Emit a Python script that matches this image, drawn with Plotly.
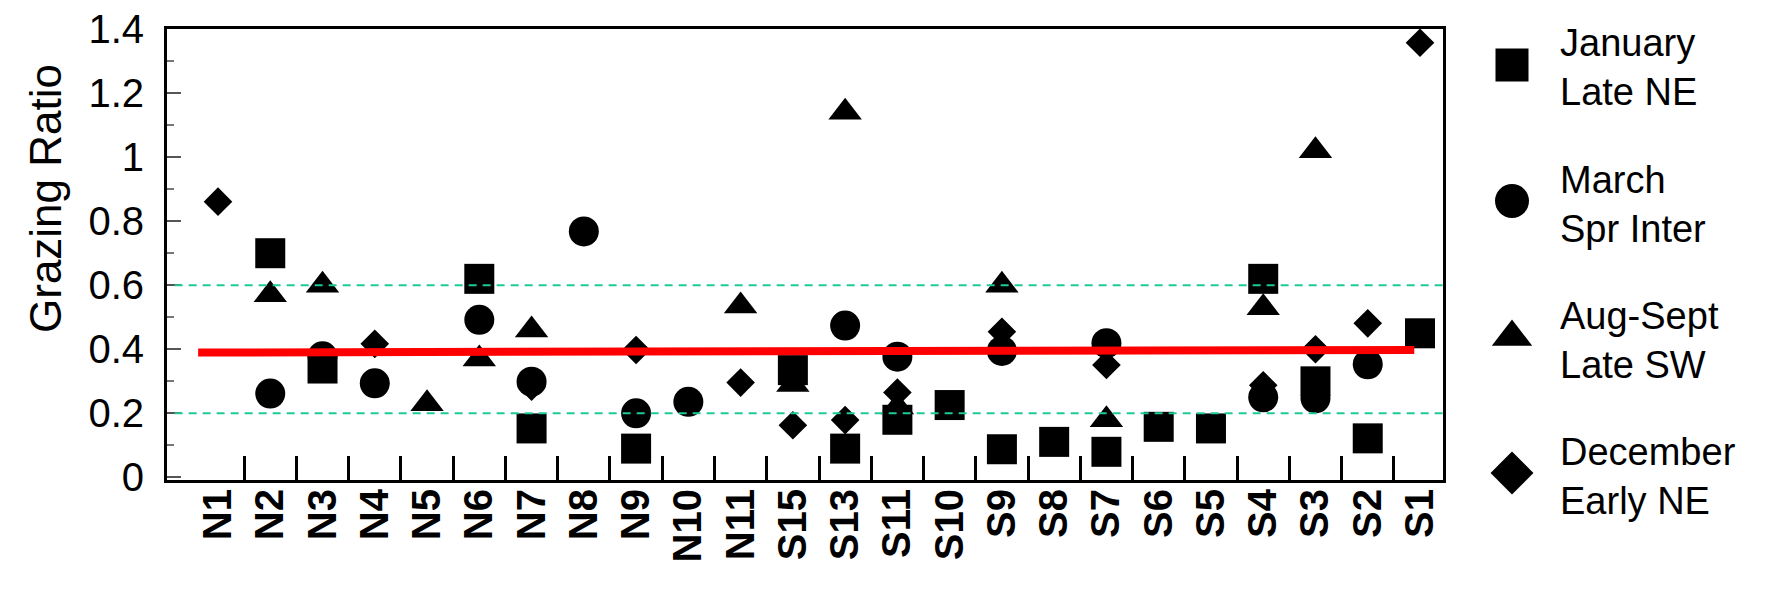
import plotly.graph_objects as go

# ---------------- data ----------------
categories = ["N1", "N2", "N3", "N4", "N5", "N6", "N7", "N8", "N9", "N10", "N11",
              "S15", "S13", "S11", "S10", "S9", "S8", "S7", "S6", "S5", "S4", "S3", "S2", "S1"]

january = [None, 0.70, 0.34, None, None, 0.62, 0.153, None, 0.09, None, None,
           0.335, 0.09, 0.18, 0.226, 0.088, 0.111, 0.08, 0.158, 0.153, 0.62, 0.30, 0.122, 0.45]
march = [None, 0.262, 0.378, 0.294, None, 0.492, 0.299, 0.768, 0.20, 0.236, None,
         None, 0.474, 0.377, None, 0.395, None, 0.419, None, None, 0.25, 0.247, 0.353, None]
aug_sept = [None, 0.57, 0.60, None, 0.23, 0.37, 0.46, None, None, None, 0.535,
            0.29, 1.14, 0.22, None, 0.60, None, 0.18, None, None, 0.53, 1.02, None, None]
december = [0.861, None, None, 0.417, None, None, 0.283, None, 0.398, None, 0.296,
            0.163, 0.179, 0.265, None, 0.455, None, 0.351, None, None, 0.288, 0.40, 0.481, 1.357]

series_names = ["January Late NE", "March Spr Inter", "Aug-Sept Late SW", "December Early NE"]
legend_line1 = ["January", "March", "Aug-Sept", "December"]
legend_line2 = ["Late NE", "Spr Inter", "Late SW", "Early NE"]

mean_line = [0.39, 0.398]          # red average line (start, end)
reference_levels = [0.2, 0.6]      # dashed green lines
y_tick_values = [0, 0.2, 0.4, 0.6, 0.8, 1.0, 1.2, 1.4]

# ---------------- layout geometry (pixels) ----------------
W, H = 1772, 601
PL, PT, PB, PR = 167, 29, 480, 1443        # plot area left/top/bottom/right
PW = W - PL                                  # paper width (right margin 0)
PH = PB - PT

def paper_x(px):
    return (px - PL) / PW

def paper_y(py):
    return (PB - py) / PH

FONT = "Liberation Sans, Arial, sans-serif"
symbols = ["square", "circle", "triangle-up", "diamond"]
sizes = [30, 30, 29, 22]
values = [january, march, aug_sept, december]

fig = go.Figure()
xs = list(range(len(categories)))
n = len(categories)
for name, vals, sym, sz in zip(series_names, values, symbols, sizes):
    fig.add_trace(go.Scatter(
        x=xs, y=vals, mode="markers", name=name,
        marker=dict(symbol=sym, size=sz, color="black", line=dict(width=0)),
        cliponaxis=False, showlegend=False))

# red average line across the sites (drawn on the overlay axis so it sits on top)
fig.add_trace(go.Scatter(
    x=[0 - 0.38, (n - 1) - 0.11], y=mean_line, mode="lines", xaxis="x3",
    line=dict(color="#ff0000", width=8), showlegend=False, hoverinfo="skip"))

# dashed reference levels
for lv in reference_levels:
    fig.add_shape(type="line", xref="x domain", yref="y", x0=0.006, x1=1, y0=lv, y1=lv,
                  line=dict(color="#1fc99a", width=2, dash="8px,6px"), layer="above")

# ---------------- custom legend on the right ----------------
leg_x0 = 1483
leg_marker_x = 1512
leg_sizes = [33, 34, 35, 33]
for i, (sym, sz) in enumerate(zip(symbols, leg_sizes)):
    cy = 68 + 136 * i
    fig.add_trace(go.Scatter(
        x=[leg_marker_x], y=[cy - 3], mode="markers", xaxis="x2", yaxis="y2",
        marker=dict(symbol=sym, size=sz, color="black"), showlegend=False,
        cliponaxis=False, hoverinfo="skip"))
    fig.add_annotation(text=legend_line1[i] + "<br>" + legend_line2[i],
                       xref="paper", yref="paper",
                       x=paper_x(1558), y=paper_y(cy), align="left",
                       xanchor="left", yanchor="middle", showarrow=False,
                       font=dict(family=FONT, size=38, color="black"))

# y-axis title
fig.add_annotation(text="Grazing Ratio", xref="paper", yref="paper",
                   x=paper_x(45), y=paper_y(199), textangle=-90,
                   xanchor="center", yanchor="middle", showarrow=False,
                   font=dict(family=FONT, size=44, color="black"))

spacing = (1420 - 218) / (n - 1)
x_lo = -(218 - PL) / spacing
x_hi = (n - 1) + (PR - 1420) / spacing
x_domain = [0, (PR - PL) / PW]

fig.update_layout(
    template="none",
    width=W, height=H,
    margin=dict(l=PL, r=0, t=PT, b=H - PB, pad=0),
    paper_bgcolor="white", plot_bgcolor="white",
    showlegend=False,
    xaxis=dict(domain=x_domain, range=[x_lo, x_hi],
               tickmode="array", tickvals=xs, ticktext=categories,
               ticks="", tickangle=-90,
               showgrid=False, zeroline=False,
               showline=True, linecolor="black", linewidth=3, mirror=True,
               ticklabelstandoff=-10, automargin=False,
               tickfont=dict(family=FONT, size=40, color="black", weight="bold")),
    # overlay axis carrying the separator tick marks between sites
    xaxis3=dict(domain=x_domain, range=[x_lo, x_hi], overlaying="x", anchor="y",
                side="bottom", tickmode="array",
                tickvals=[i + 0.5 for i in range(n - 1)],
                ticks="inside", ticklen=24, tickwidth=3, tickcolor="black",
                showticklabels=False, showgrid=False, zeroline=False,
                showline=False, automargin=False, fixedrange=True),
    yaxis=dict(range=[-0.008, 1.4], tickmode="array", tickvals=y_tick_values,
               ticks="inside", ticklen=14, tickwidth=2, tickcolor="#555555",
               showgrid=False, zeroline=False,
               showline=True, linecolor="black", linewidth=3, mirror=True,
               ticklabelstandoff=12, automargin=False,
               tickfont=dict(family=FONT, size=40, color="black"),
               minor=dict(dtick=0.1, tick0=0, ticks="inside", ticklen=7, tickwidth=2,
                          tickcolor="#777777", showgrid=False)),
    xaxis2=dict(domain=[paper_x(leg_x0), 1], range=[leg_x0, W], visible=False,
                anchor="y2", fixedrange=True),
    yaxis2=dict(domain=[0, 1], range=[PB, PT], visible=False, anchor="x2",
                fixedrange=True),
)

fig.write_html("out.html", config={"displayModeBar": False},
               post_script="document.body.style.margin='0';")
